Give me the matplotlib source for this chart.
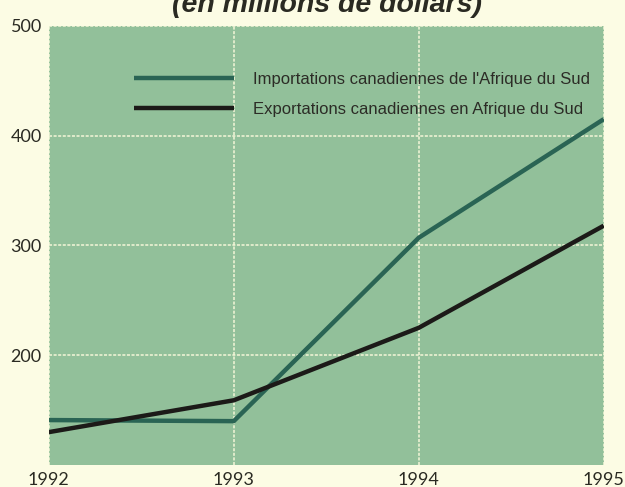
import numpy as np
import matplotlib
matplotlib.use('Agg')
import matplotlib.pyplot as plt

# Data (millions of dollars)
years = [1992, 1993, 1994, 1995]
imports_sa = [141, 140, 307, 415]
exports_sa = [130, 159, 225, 318]
labels = ["Importations canadiennes de l'Afrique du Sud",
          "Exportations canadiennes en Afrique du Sud"]

bg_color = '#fcfce4'
plot_color = '#92c09a'
teal = '#2a6454'
dark = '#1c1a18'

fig = plt.figure(figsize=(6.25, 4.87), dpi=100, facecolor=bg_color)
ax = fig.add_axes([0.078, 0.045, 0.888, 0.902])
ax.set_facecolor(plot_color)

ax.plot(years, imports_sa, color=teal, linewidth=3.2, solid_capstyle='butt', label=labels[0])
ax.plot(years, exports_sa, color=dark, linewidth=3.2, solid_capstyle='butt', label=labels[1])

ax.set_xlim(1992, 1995)
ax.set_ylim(100, 500)
ax.set_xticks(years)
ax.set_yticks([200, 300, 400, 500])

ax.grid(True, color='#f4f6d8', linestyle=(0, (2, 1)), linewidth=1.1)
ax.set_axisbelow(True)
for s in ax.spines.values():
    s.set_visible(False)

ax.tick_params(length=0, labelsize=13, colors='#2a2a22')
ax.tick_params(axis='x', pad=5)
ax.tick_params(axis='y', pad=5)
for t in ax.get_xticklabels() + ax.get_yticklabels():
    t.set_family('Lato')

leg = ax.legend(loc='upper left', bbox_to_anchor=(0.214, 0.853),
                bbox_transform=fig.transFigure, frameon=False,
                handlelength=6.0, handletextpad=1.15, labelspacing=0.92,
                borderpad=0, borderaxespad=0,
                prop={'family': 'Liberation Sans', 'size': 12})
for t in leg.get_texts():
    t.set_color('#2c2c26')

# title is cut off at the top of the picture
fig.text(0.523, 0.975, '(en millions de dollars)', ha='center', va='baseline',
         fontsize=20.5, fontweight='bold', fontstyle='italic',
         family='Liberation Sans', color='#2a2a22')

fig.savefig('out.png', dpi=100, facecolor=bg_color)
